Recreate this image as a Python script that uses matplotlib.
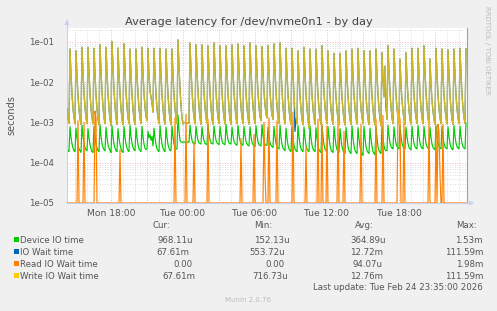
import numpy as np
import matplotlib
matplotlib.use("Agg")
import matplotlib.pyplot as plt
from matplotlib.patches import Rectangle, Polygon
from matplotlib.lines import Line2D

W, H = 497, 311

# 5 minute samples, x in hours relative to Tue 00:00
t_start = -9.667
step_h = 5 / 60

write_io = [
    0.0022, 0.0013, 0.00095,
    0.066, 0.015, 0.0050, 0.0022, 0.0013, 0.00093,
    0.060, 0.014, 0.0046, 0.0021, 0.0012, 0.00090,
    0.073, 0.017, 0.0054, 0.0023, 0.0013, 0.00095,
    0.073, 0.017, 0.0052, 0.0022, 0.0013, 0.00092,
    0.069, 0.016, 0.0050, 0.0021, 0.0012, 0.00088,
    0.084, 0.019, 0.0058, 0.0024, 0.0013, 0.00094,
    0.073, 0.017, 0.0052, 0.0022, 0.0012, 0.00085,
    0.102, 0.022, 0.0064, 0.0025, 0.0013, 0.00090,
    0.070, 0.016, 0.0050, 0.0022, 0.0012, 0.00087,
    0.089, 0.020, 0.0060, 0.0024, 0.0013, 0.00093,
    0.066, 0.015, 0.0049, 0.0021, 0.0012, 0.00090,
    0.066, 0.015, 0.0050, 0.0022, 0.0013, 0.00094,
    0.073, 0.017, 0.0054, 0.0024, 0.0014, 0.00110,
    0.069, 0.015, 0.0060, 0.0042, 0.0030, 0.00180,
    0.069, 0.016, 0.0051, 0.0022, 0.0013, 0.00093,
    0.069, 0.016, 0.0050, 0.0022, 0.0012, 0.00090,
    0.066, 0.015, 0.0049, 0.0021, 0.0012, 0.00089,
    0.066, 0.015, 0.0050, 0.0022, 0.0013, 0.00094,
    0.1116, 0.024, 0.0068, 0.0026, 0.0013, 0.00092,
    0.0010, 0.00098, 0.00096, 0.00095, 0.00097, 0.00095,
    0.094, 0.021, 0.0062, 0.0024, 0.0013, 0.00093,
    0.084, 0.019, 0.0058, 0.0024, 0.0013, 0.00090,
    0.084, 0.019, 0.0057, 0.0023, 0.0013, 0.00094,
    0.080, 0.018, 0.0055, 0.0023, 0.0012, 0.00091,
    0.094, 0.021, 0.0062, 0.0024, 0.0013, 0.00095,
    0.080, 0.018, 0.0055, 0.0023, 0.0013, 0.00092,
    0.080, 0.018, 0.0054, 0.0022, 0.0012, 0.00090,
    0.084, 0.019, 0.0057, 0.0024, 0.0013, 0.00093,
    0.089, 0.020, 0.0060, 0.0024, 0.0013, 0.00094,
    0.080, 0.018, 0.0055, 0.0023, 0.0013, 0.00091,
    0.094, 0.021, 0.0062, 0.0024, 0.0013, 0.00095,
    0.080, 0.018, 0.0056, 0.0024, 0.0014, 0.00110,
    0.077, 0.018, 0.0058, 0.0027, 0.0016, 0.00130,
    0.080, 0.018, 0.0058, 0.0026, 0.0015, 0.00120,
    0.089, 0.020, 0.0060, 0.0024, 0.0013, 0.00095,
    0.094, 0.021, 0.0062, 0.0024, 0.0013, 0.00093,
    0.069, 0.016, 0.0050, 0.0022, 0.0012, 0.00090,
    0.069, 0.016, 0.0051, 0.0022, 0.0013, 0.00092,
    0.060, 0.014, 0.0046, 0.0021, 0.0012, 0.00088,
    0.073, 0.017, 0.0053, 0.0022, 0.0012, 0.00072,
    0.066, 0.015, 0.0049, 0.0022, 0.0013, 0.00091,
    0.066, 0.015, 0.0049, 0.0021, 0.0012, 0.00089,
    0.080, 0.018, 0.0055, 0.0024, 0.0013, 0.00094,
    0.060, 0.014, 0.0046, 0.0021, 0.0012, 0.00090,
    0.052, 0.012, 0.0042, 0.0020, 0.0012, 0.00088,
    0.052, 0.012, 0.0042, 0.0020, 0.0012, 0.00086,
    0.060, 0.014, 0.0046, 0.0021, 0.0012, 0.00089,
    0.066, 0.015, 0.0049, 0.0022, 0.0013, 0.00092,
    0.069, 0.016, 0.0050, 0.0022, 0.0013, 0.00093,
    0.060, 0.014, 0.0046, 0.0021, 0.0012, 0.00088,
    0.060, 0.014, 0.0046, 0.0021, 0.0012, 0.00086,
    0.066, 0.015, 0.0049, 0.0022, 0.0012, 0.00085,
    0.054, 0.012, 0.0043, 0.0250, 0.0040, 0.00120,
    0.080, 0.018, 0.0055, 0.0024, 0.0013, 0.00093,
    0.066, 0.015, 0.0049, 0.0022, 0.0013, 0.00092,
    0.037, 0.009, 0.0036, 0.0019, 0.0012, 0.00090,
    0.054, 0.012, 0.0043, 0.0020, 0.0012, 0.00091,
    0.069, 0.016, 0.0050, 0.0022, 0.0013, 0.00094,
    0.069, 0.016, 0.0051, 0.0022, 0.0013, 0.00093,
    0.080, 0.018, 0.0055, 0.0024, 0.0013, 0.00095,
    0.038, 0.009, 0.0036, 0.0019, 0.0012, 0.00090,
    0.069, 0.016, 0.0050, 0.0022, 0.0013, 0.00093,
    0.066, 0.015, 0.0049, 0.0022, 0.0013, 0.00092,
    0.064, 0.015, 0.0048, 0.0021, 0.0012, 0.00090,
    0.066, 0.015, 0.0049, 0.0022, 0.0013, 0.00093,
    0.069, 0.016, 0.0050, 0.0022, 0.0013, 0.00095,
    0.0676,
]

device_io = [
    0.00023, 0.00020, 0.00019,
    0.00078, 0.00044, 0.00029, 0.00023, 0.00020, 0.00019,
    0.00072, 0.00042, 0.00028, 0.00022, 0.00020, 0.00018,
    0.00085, 0.00046, 0.00030, 0.00024, 0.00021, 0.00020,
    0.00070, 0.00041, 0.00028, 0.00022, 0.00019, 0.00018,
    0.00080, 0.00044, 0.00029, 0.00023, 0.00020, 0.00019,
    0.00088, 0.00047, 0.00030, 0.00024, 0.00021, 0.00020,
    0.00075, 0.00043, 0.00028, 0.00023, 0.00020, 0.00018,
    0.00082, 0.00045, 0.00029, 0.00023, 0.00020, 0.00019,
    0.00070, 0.00041, 0.00028, 0.00022, 0.00019, 0.00018,
    0.00079, 0.00044, 0.00029, 0.00023, 0.00020, 0.00019,
    0.00086, 0.00046, 0.00030, 0.00024, 0.00021, 0.00020,
    0.00074, 0.00042, 0.00028, 0.00022, 0.00020, 0.00019,
    0.00080, 0.00044, 0.00029, 0.00023, 0.00021, 0.00022,
    0.00060, 0.00042, 0.00050, 0.00036, 0.00045, 0.00026,
    0.00072, 0.00042, 0.00028, 0.00022, 0.00020, 0.00019,
    0.00083, 0.00045, 0.00029, 0.00023, 0.00020, 0.00019,
    0.00076, 0.00043, 0.00028, 0.00023, 0.00020, 0.00020,
    0.00081, 0.00045, 0.00029, 0.00024, 0.00022, 0.00022,
    0.00153, 0.00062, 0.00036, 0.00033, 0.00032, 0.00032,
    0.00033, 0.00032, 0.00031, 0.00032, 0.00033, 0.00032,
    0.00085, 0.00050, 0.00036, 0.00031, 0.00030, 0.00029,
    0.00080, 0.00049, 0.00035, 0.00031, 0.00030, 0.00029,
    0.00078, 0.00048, 0.00035, 0.00030, 0.00029, 0.00028,
    0.00088, 0.00052, 0.00037, 0.00031, 0.00030, 0.00029,
    0.00082, 0.00050, 0.00036, 0.00031, 0.00029, 0.00028,
    0.00079, 0.00049, 0.00035, 0.00030, 0.00029, 0.00028,
    0.00090, 0.00052, 0.00037, 0.00031, 0.00030, 0.00029,
    0.00076, 0.00048, 0.00034, 0.00030, 0.00028, 0.00027,
    0.00084, 0.00050, 0.00035, 0.00030, 0.00028, 0.00027,
    0.00080, 0.00048, 0.00034, 0.00029, 0.00027, 0.00026,
    0.00078, 0.00046, 0.00032, 0.00028, 0.00026, 0.00025,
    0.00083, 0.00047, 0.00033, 0.00028, 0.00027, 0.00026,
    0.00088, 0.00048, 0.00033, 0.00028, 0.00027, 0.00027,
    0.00075, 0.00045, 0.00031, 0.00027, 0.00025, 0.00024,
    0.00080, 0.00045, 0.00030, 0.00025, 0.00023, 0.00022,
    0.00086, 0.00044, 0.00028, 0.00023, 0.00021, 0.00020,
    0.00072, 0.00041, 0.00027, 0.00022, 0.00020, 0.00019,
    0.00079, 0.00043, 0.00027, 0.00022, 0.00020, 0.00019,
    0.00084, 0.00044, 0.00028, 0.00022, 0.00020, 0.00019,
    0.00077, 0.00042, 0.00027, 0.00022, 0.00020, 0.00019,
    0.00081, 0.00043, 0.00027, 0.00022, 0.00020, 0.00019,
    0.00074, 0.00041, 0.00026, 0.00021, 0.00019, 0.00018,
    0.00085, 0.00044, 0.00028, 0.00022, 0.00020, 0.00019,
    0.00078, 0.00042, 0.00027, 0.00021, 0.00019, 0.00018,
    0.00080, 0.00043, 0.00027, 0.00021, 0.00019, 0.00018,
    0.00070, 0.00040, 0.00025, 0.00020, 0.00018, 0.00017,
    0.00076, 0.00041, 0.00025, 0.00020, 0.00018, 0.00017,
    0.00082, 0.00042, 0.00026, 0.00020, 0.00018, 0.00017,
    0.00074, 0.00040, 0.00025, 0.00019, 0.00017, 0.000152,
    0.00079, 0.00041, 0.00025, 0.00020, 0.00018, 0.00017,
    0.00072, 0.00040, 0.00025, 0.00019, 0.00017, 0.00016,
    0.00077, 0.00041, 0.00025, 0.00020, 0.00018, 0.00017,
    0.00080, 0.00042, 0.00026, 0.00021, 0.00020, 0.00020,
    0.00085, 0.00046, 0.00031, 0.00025, 0.00023, 0.00022,
    0.00078, 0.00044, 0.00030, 0.00025, 0.00023, 0.00022,
    0.00082, 0.00045, 0.00030, 0.00025, 0.00023, 0.00022,
    0.00076, 0.00044, 0.00030, 0.00024, 0.00022, 0.00021,
    0.00080, 0.00045, 0.00030, 0.00025, 0.00023, 0.00022,
    0.00084, 0.00046, 0.00031, 0.00025, 0.00023, 0.00022,
    0.00079, 0.00045, 0.00030, 0.00025, 0.00023, 0.00022,
    0.00075, 0.00043, 0.00029, 0.00024, 0.00022, 0.00021,
    0.00083, 0.00046, 0.00031, 0.00025, 0.00023, 0.00022,
    0.00081, 0.00045, 0.00030, 0.00025, 0.00023, 0.00022,
    0.00078, 0.00044, 0.00030, 0.00024, 0.00022, 0.00021,
    0.00084, 0.00046, 0.00031, 0.00025, 0.00023, 0.00022,
    0.00080, 0.00045, 0.00030, 0.00025, 0.00023, 0.00022,
    0.000968,
]

# io wait follows write wait except at a couple of samples
io_wait_diff = {228: 0.0006, 319: 0.0024}

# read wait is zero except for these samples
read_idx = [11, 17, 28, 29, 53, 108, 119, 127, 141, 174, 187, 197, 198,
            202, 210, 226, 239, 251, 255, 260, 271, 277, 294, 309, 316,
            331, 332, 333, 337, 362, 369, 371, 372, 373, 376]
read_val = [0.0011, 0.0010, 0.0019, 0.0013, 0.00021, 0.0013, 0.0016, 0.00033,
            0.0012, 0.0004, 0.0005, 0.0010, 0.00005, 0.0013, 0.0011, 0.0018,
            0.00025, 0.0012, 0.0009, 0.0008, 0.0011, 0.0006, 0.0009, 0.0012,
            0.0015, 0.00198, 0.0015, 0.0012, 0.0010, 0.0011, 0.0008, 0.0009,
            0.0006, 0.00005, 0.0009]

tick_hours = [-6, 0, 6, 12, 18]
tick_labels = ["Mon 18:00", "Tue 00:00", "Tue 06:00", "Tue 12:00", "Tue 18:00"]
y_ticks = [1e-5, 1e-4, 1e-3, 1e-2, 1e-1]
y_tick_labels = ["1e-05", "1e-04", "1e-03", "1e-02", "1e-01"]

names = ["Device IO time", "IO Wait time", "Read IO Wait time", "Write IO Wait time"]
colors = ["#00CC00", "#0066B3", "#FF8000", "#FFCC00"]
cur = ["968.11u", "67.61m", "0.00", "67.61m"]
mins = ["152.13u", "553.72u", "0.00", "716.73u"]
avgs = ["364.89u", "12.72m", "94.07u", "12.76m"]
maxs = ["1.53m", "111.59m", "1.98m", "111.59m"]

n = len(write_io)
t = t_start + np.arange(n) * step_h
io_wait = list(write_io)
for i, v in io_wait_diff.items():
    io_wait[i] = v
read_io = np.zeros(n)
read_io[read_idx] = read_val

y_bottom, y_top = 1e-5, 0.22
txt = "#555555"


def px(x, y):
    return x / W, 1 - y / H


fig = plt.figure(figsize=(W / 100, H / 100), dpi=100, facecolor="#F0F0F0")
ax = fig.add_axes([67 / W, 1 - 203 / H, 400 / W, 175 / H])
ax.set_facecolor("white")
ax.set_yscale("log")
ax.set_xlim(-9.667, 23.667)
ax.set_ylim(y_bottom, y_top)

# grid: hourly grey, every 3 hours red; decades red, minor decades grey
for h in range(-9, 24):
    major = h % 3 == 0
    ax.axvline(h, color="#F2A0A0" if major else "#D2D2D2", lw=0.6,
               ls=(0, (1, 2)), zorder=0.5)
for e in range(-5, 0):
    for m in range(1, 10):
        y = m * 10.0 ** e
        if y >= y_top:
            continue
        ax.axhline(y, color="#F2A0A0" if m == 1 else "#D2D2D2", lw=0.6,
                   ls=(0, (1, 2)), zorder=0.5)

ax.plot(t, device_io, color=colors[0], lw=0.85, zorder=2)
ax.plot(t, io_wait, color=colors[1], lw=0.9, zorder=3)
ax.plot(t, np.clip(read_io, y_bottom, None), color=colors[2], lw=0.85, zorder=4)
ax.plot(t, write_io, color=colors[3], lw=0.95, alpha=0.8, zorder=5)

ax.set_xticks(tick_hours)
ax.set_xticklabels(tick_labels, fontsize=6.6, color=txt)
ax.set_yticks(y_ticks)
ax.set_yticklabels(y_tick_labels, fontsize=6.2, color=txt)
ax.yaxis.set_minor_locator(matplotlib.ticker.NullLocator())
ax.tick_params(axis="x", length=0, pad=4)
ax.tick_params(axis="y", length=0, pad=9)

ax.spines["top"].set_visible(False)
axis_col = "#C8D0F4"
ax.spines["left"].set_color(axis_col)
ax.spines["bottom"].set_color(axis_col)
ax.spines["right"].set_color("#A0A0A0")
for s in ax.spines.values():
    s.set_linewidth(0.8)

# axis arrows
fig.add_artist(Line2D(*zip(px(67, 28), px(67, 21)), color=axis_col, lw=0.8))
fig.add_artist(Polygon([px(64.5, 25), px(69.5, 25), px(67, 19)], closed=True,
                       color=axis_col, lw=0))
fig.add_artist(Line2D(*zip(px(467, 203), px(472, 203)), color=axis_col, lw=0.8))
fig.add_artist(Polygon([px(469, 200.5), px(469, 205.5), px(474, 203)], closed=True,
                       color=axis_col, lw=0))

fig.text(*px(248.5, 25), "Average latency for /dev/nvme0n1 - by day",
         ha="center", va="baseline", fontsize=8.2, color="#444444")
fig.text(*px(11, 115), "seconds", rotation=90, ha="center", va="center",
         fontsize=7, color=txt)
fig.text(*px(487, 50), "RRDTOOL / TOBI OETIKER", rotation=270, ha="center",
         va="center", fontsize=5, color="#BBBBBB")

# legend block
fs = 6.2
for x, lab in zip([152.7, 254, 355, 455.7], ["Cur:", "Min:", "Avg:", "Max:"]):
    fig.text(*px(x, 228), lab, ha="left", va="baseline", fontsize=fs, color=txt)
cur_x = [157.3, 156, 173.3, 162.3]
min_x = [254.3, 249.3, 265, 252.7]
avg_x = [350.7, 350, 352.7, 350]
for r in range(4):
    yb = 243 + 12 * r
    fig.add_artist(Rectangle(px(14, yb - 1), 5 / W, 5 / H, color=colors[r], lw=0))
    fig.text(*px(20.5, yb), names[r], ha="left", va="baseline", fontsize=fs, color=txt)
    fig.text(*px(cur_x[r], yb), cur[r], ha="left", va="baseline", fontsize=fs, color=txt)
    fig.text(*px(min_x[r], yb), mins[r], ha="left", va="baseline", fontsize=fs, color=txt)
    fig.text(*px(avg_x[r], yb), avgs[r], ha="left", va="baseline", fontsize=fs, color=txt)
    fig.text(*px(483, yb), maxs[r], ha="right", va="baseline", fontsize=fs, color=txt)

fig.text(*px(482.5, 290), "Last update: Tue Feb 24 23:35:00 2026", ha="right",
         va="baseline", fontsize=fs, color=txt)
fig.text(*px(248.5, 301.5), "Munin 2.0.76", ha="center", va="baseline",
         fontsize=5, color="#BBBBBB")

fig.savefig("out.png", dpi=100, facecolor=fig.get_facecolor())
